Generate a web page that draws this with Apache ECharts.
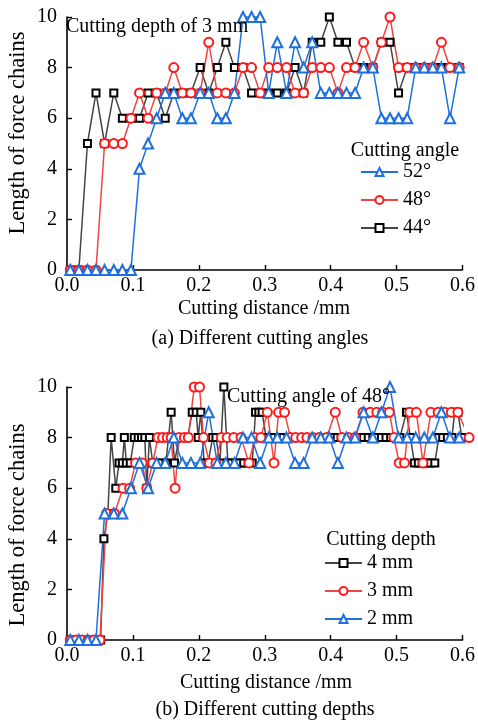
<!DOCTYPE html>
<html>
<head>
<meta charset="utf-8">
<script src="https://cdn.jsdelivr.net/npm/echarts@6/dist/echarts.min.js"></script>
<style>
  html, body { margin: 0; padding: 0; background: #fff; }
  #chart { width: 478px; height: 720px; }
</style>
</head>
<body>
<div id="chart"></div>
<script>
// Sampling positions along the cut (mm) shared by the angle series and the 2 mm series
const sampleDist = [0.005,0.018,0.031,0.044,0.057,0.071,0.084,0.097,0.110,0.123,0.136,0.149,0.162,0.175,0.188,0.202,0.215,0.228,0.241,0.254,0.267,0.280,0.293,0.306,0.319,0.333,0.346,0.359,0.372,0.385,0.398,0.411,0.424,0.437,0.450,0.464,0.477,0.490,0.503,0.516,0.529,0.542,0.555,0.568,0.581,0.595];

// (a) cutting depth 3 mm, different cutting angles
const angle52 = [0,0,0,0,0,0,0,0,4,5,6,7,7,6,6,7,7,6,6,7,10,10,10,7,9,7,9,8,9,7,7,7,7,7,8,8,6,6,6,6,8,8,8,8,6,8];
const angle48 = [0,0,0,0,5,5,5,6,7,6,7,7,8,7,7,7,9,7,7,7,8,8,7,8,8,8,7,7,8,8,8,7,8,8,9,8,9,10,8,8,8,8,8,9,8,8];
const angle44 = [0,0,5,7,5,7,6,6,6,7,7,6,7,7,7,8,7,8,9,8,8,7,7,7,7,7,8,7,9,9,10,9,9,8,8,8,9,9,7,8,8,8,8,8,8,8];

// (b) cutting angle 48°, different cutting depths
const depth4Dist = [0.005,0.011,0.018,0.025,0.032,0.038,0.045,0.051,
  0.056,0.062,0.067,0.074,0.079,0.084,0.087,0.090,0.096,0.102,
  0.108,0.113,0.118,0.121,0.125,
  0.130,0.135,0.143,0.150,0.158,
  0.163,0.170,0.176,0.183,0.190,
  0.196,0.199,0.203,0.208,0.214,
  0.221,0.226,0.232,0.238,0.244,
  0.250,0.256,0.262,0.268,0.275,
  0.281,0.286,0.291,0.296,0.302,
  0.308,0.314,0.321,0.328,0.335,0.342,0.348,0.355,0.362,0.369,
  0.376,0.382,0.389,0.396,0.403,0.410,0.416,0.423,0.430,0.437,
  0.443,0.450,0.457,0.464,0.471,0.477,0.484,0.491,0.498,0.505,
  0.515,0.521,0.527,0.533,0.539,0.545,0.551,0.558,0.564,0.570,0.577,0.584,0.588,0.593,0.599];
const depth4 = [0,0,0,0,0,0,0,0,
  4,5,8,6,7,7,8,7,7,8,
  8,8,8,6,8,
  7,7,7,7,9,
  7,8,8,8,9,
  9,8,9,7,7,
  8,8,7,10,7,
  7,7,7,7,7,
  7,9,9,9,8,
  8,8,8,8,8,8,8,8,8,8,
  8,8,8,8,8,8,8,8,8,8,
  8,8,8,8,8,8,8,8,8,8,
  9,8,7,7,7,7,7,7,8,8,8,8,9,9,8];

const depth3Dist = [0.005,0.014,0.023,0.032,0.041,0.050,0.060,0.072,0.085,0.095,
  0.104,0.114,0.121,0.130,0.138,0.145,0.152,0.158,0.164,0.170,
  0.178,0.184,0.193,0.201,0.207,0.216,0.226,0.234,0.243,0.253,
  0.264,0.276,0.285,0.294,0.304,0.314,0.321,0.330,0.339,0.347,
  0.356,0.364,0.373,0.383,0.394,0.407,0.417,0.427,0.437,0.449,
  0.460,0.470,0.479,0.489,0.496,0.504,0.512,0.520,0.530,0.540,
  0.552,0.563,0.573,0.583,0.593,0.610];
const depth3 = [0,0,0,0,0,0,5,5,6,6,
  7,7,6,7,8,8,8,8,6,8,
  8,8,10,10,8,7,7,8,8,8,
  8,7,8,8,9,7,9,9,8,8,
  8,8,8,8,8,9,8,8,8,9,
  9,9,9,9,8,7,7,9,9,7,
  9,9,9,9,9,8];

const depth2 = [0,0,0,0,5,5,5,6,7,6,7,7,8,7,7,7,9,7,7,7,8,8,7,8,8,8,7,7,8,8,8,7,8,8,9,8,9,10,8,8,8,8,8,9,8,8];

const FONT = "'Liberation Serif', 'Times New Roman', serif";
const BLUE = '#1f6fdc', RED = '#ff1a1a', RED_LINE = '#f04545', BLACK = '#000', GREY_LINE = '#454545';

const zip = (xs, ys) => xs.map((x, i) => [x, ys[i]]);

function axisX(gridIndex) {
  return {
    type: 'value', gridIndex, min: 0, max: 0.6, interval: 0.1,
    axisLine: { lineStyle: { color: '#000', width: 1.6 } },
    axisTick: { inside: true, length: 5, lineStyle: { color: '#000', width: 1.4 } },
    axisLabel: { color: '#000', fontSize: 20, fontFamily: FONT, margin: 6,
      formatter: v => v.toFixed(1) },
    splitLine: { show: false }
  };
}
function axisY(gridIndex) {
  return {
    type: 'value', gridIndex, min: 0, max: 10, interval: 2,
    axisLine: { show: true, lineStyle: { color: '#000', width: 1.6 } },
    axisTick: { show: true, inside: true, length: 5, lineStyle: { color: '#000', width: 1.4 } },
    axisLabel: { color: '#000', fontSize: 20, fontFamily: FONT, margin: 10 },
    splitLine: { show: false }
  };
}
function lineSeries(name, grid, data, kind) {
  const style = {
    tri: { symbol: 'emptyTriangle', size: 10, color: BLUE, line: BLUE },
    circ: { symbol: 'emptyCircle', size: 9, color: RED, line: RED_LINE },
    sq: { symbol: 'emptyRect', size: 7, color: BLACK, line: GREY_LINE }
  }[kind];
  return {
    name, type: 'line', xAxisIndex: grid, yAxisIndex: grid, data,
    symbol: style.symbol, symbolSize: style.size, showAllSymbol: true,
    clip: false,
    lineStyle: { color: style.line, width: 1.5 },
    itemStyle: { color: style.color, borderColor: style.color, borderWidth: 1.8 }
  };
}
function legend(names, left, top) {
  return {
    data: names, orient: 'vertical', left, top, padding: 0,
    itemWidth: 37, itemHeight: 10, itemGap: 8,
    textStyle: { color: '#000', fontSize: 20, fontFamily: FONT }
  };
}
function txt(text, x, y, opts) {
  return Object.assign({
    type: 'text', x, y, z: 100,
    style: Object.assign({ text, fill: '#000', font: '20px ' + FONT,
      textAlign: 'center', textVerticalAlign: 'middle' }, opts && opts.style)
  }, opts && opts.el);
}

const chart = echarts.init(document.getElementById('chart'), null, { renderer: 'canvas' });
chart.setOption({
  animation: false,
  backgroundColor: '#fff',
  grid: [
    { left: 67, top: 17, width: 396, height: 253 },
    { left: 67, top: 387, width: 398, height: 253 }
  ],
  xAxis: [axisX(0), axisX(1)],
  yAxis: [axisY(0), axisY(1)],
  legend: [
    legend(['52°', '48°', '44°'], 360, 162),
    legend(['4 mm', '3 mm', '2 mm'], 324, 553)
  ],
  series: [
    lineSeries('44°', 0, zip(sampleDist, angle44), 'sq'),
    lineSeries('48°', 0, zip(sampleDist, angle48), 'circ'),
    lineSeries('52°', 0, zip(sampleDist, angle52), 'tri'),
    lineSeries('4 mm', 1, zip(depth4Dist, depth4), 'sq'),
    lineSeries('3 mm', 1, zip(depth3Dist, depth3), 'circ'),
    lineSeries('2 mm', 1, zip(sampleDist, depth2), 'tri')
  ],
  graphic: [
    txt('Length of force chains', 18, 133, { el: { rotation: Math.PI / 2 }, style: { font: '22.5px ' + FONT } }),
    txt('Length of force chains', 18, 525, { el: { rotation: Math.PI / 2 }, style: { font: '22.5px ' + FONT } }),
    txt('Cutting distance /mm', 264, 309),
    txt('Cutting distance /mm', 266, 683),
    txt('(a) Different cutting angles', 260, 339),
    txt('(b) Different cutting depths', 265, 710),
    txt('Cutting depth of 3 mm', 66, 27, { style: { textAlign: 'left' } }),
    txt('Cutting angle of 48°', 227, 397, { style: { textAlign: 'left' } }),
    txt('Cutting angle', 405, 151),
    txt('Cutting depth', 381, 540)
  ]
});
</script>
</body>
</html>
